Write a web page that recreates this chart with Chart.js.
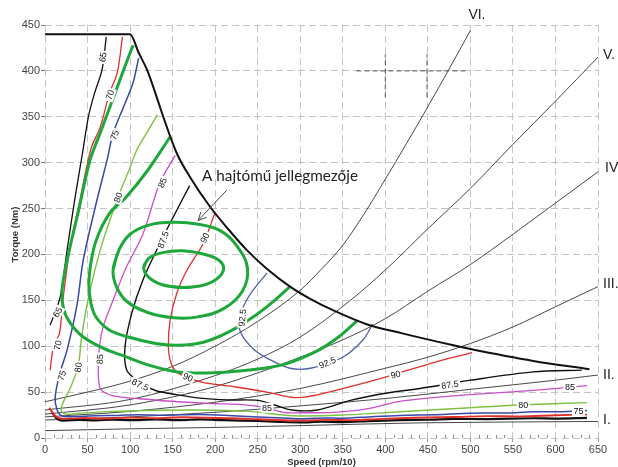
<!DOCTYPE html>
<html><head><meta charset="utf-8">
<script src="https://cdn.jsdelivr.net/npm/chart.js@4.4.1/dist/chart.umd.min.js"></script>
<style>html,body{margin:0;padding:0;background:#fff;} #wrap{width:618px;height:467px;}</style>
</head><body><div id="wrap"><canvas id="c" width="618" height="467"></canvas></div>
<script>
// ---- axis ticks ----
const xTicks = [0,50,100,150,200,250,300,350,400,450,500,550,600,650];
const yTicks = [0,50,100,150,200,250,300,350,400,450];

// ---- maximum torque envelope ----
const envelope = [[0,440],[100,440],[110,420],[120,401],[130,375],[139,350],[155,310],[170,285],[194,252],[215,228],[237,205],[260,185],[288,165],[315,150],[339,139],[378,124],[420,114],[480,101],[500,97],[574,84],[640,75]];

// ---- gear resistance lines ----
const gearI   = [[0,8],[100,10],[200,11.5],[300,13.5],[441,16.5],[650,18]];
const gearII  = [[0,19.6],[100,23],[200,28],[300,35],[400,43],[500,53],[600,63],[650,68.6]];
const gearIII = [[0,23],[100,29],[200,39],[300,54],[400,76],[450,88],[500,103],[550,121],[600,143],[650,165]];
const gearIV  = [[0,26],[100,36],[200,56],[300,88],[350,107],[400,130],[450,160],[500,189],[550,222],[600,256],[650,290]];
const gearV   = [[0,30.5],[100,42],[200,68],[250,86],[300,110],[359,150],[400,183],[450,228],[500,272],[550,320],[600,367],[650,415]];
const gearVI  = [[0,39.5],[50,50],[100,62],[150,78],[200,100],[250,127],[300,161],[325,184],[350,210],[375,244],[400,282],[425,321],[450,361],[475,402],[500,444]];
const gearNames = ["I.","II.","III.","IV","V.","VI."];

// ---- efficiency contours ----
const c65L = [[72,437],[67,401],[58,375],[51,350],[44,310],[35,260],[26,205],[18,154],[11,135],[6,123]];
const c65B = [[8,28],[14,21],[20,19],[40,19.8],[60,19.2],[80,20],[100,19.4],[130,20.2],[160,19.5],[182,20.3],[210,19.4],[250,18.5],[275,17.6],[300,17],[325,17.8],[350,17.3],[380,18.4],[417,19.5],[450,19.9],[480,20.8],[520,20.6],[574,21.5],[600,21.2],[637,22]];
const c70L = [[91,437],[85,398],[76,376],[65,339],[54,315],[41,259],[29,205],[21,150],[17,114],[10,100],[6,74]];
const c70B = [[5,33],[12,24],[20,21],[45,21.8],[70,21.2],[100,22.2],[130,21.6],[160,22.6],[190,22],[220,21.6],[250,20.5],[280,19.4],[300,19],[330,19.8],[360,19.5],[390,20.6],[417,21.5],[450,22.4],[480,22.8],[520,23.8],[560,23.6],[600,24.8],[637,25.5]];
const c75  = [[110,414],[103.5,387],[92,360],[80,332],[73,303],[61,259],[45,194],[37.6,145],[26,96],[17.6,71],[12,45],[14,31],[20,24],[40,23.5],[60,24.3],[85,24.6],[110,25.4],[140,24.9],[182,25.6],[215,24.6],[250,23],[280,21.8],[300,21],[330,21.9],[350,21.5],[385,23.2],[417,24.5],[460,25.4],[500,27],[540,27.2],[574,28.5],[605,28.6],[637,30]];
const c80  = [[132,352],[118,330],[108,314],[98,290],[84.5,259],[65,205],[51,152],[43,110],[39,78],[30,55],[21,38],[19,30],[24,26],[40,27],[79,29],[120,30],[182,30.5],[240,29],[280,25],[300,24],[350,25],[417,28.6],[500,33],[555,36],[637,38.5]];
const c85  = [[153,308],[135,278],[115,222],[95,185],[80,150],[68,120],[63,88],[64,56],[71,49],[85,45],[102,43.5],[156,39.5],[200,37.5],[235,36],[260,33],[280,28],[300,27.5],[339,28],[380,32],[417,40],[496,47],[574,52],[637,57]];
const c875 = [[170,275],[152,243],[135,212],[115,172],[102,136],[94,99],[96,74],[108,63],[129,52],[156,47],[182,43.5],[215,41.5],[250,41],[270,36],[290,30.5],[320,30.5],[359,41],[402,49],[441,54],[468,58],[500,63],[574,72],[631,74]];
const c90  = [[200,246],[186,212],[167,183],[155,158],[147,128],[145,100],[148,82],[156,71],[184,61],[221,56],[261,50],[280,46],[296,44],[320,47],[359,56],[402,67],[460,83],[502,93]];
const c925 = [[261,180],[240,155],[229,132],[230,115],[245,97],[263,86],[288,76],[312,76],[350,88],[374,107],[385,124]];

// ---- drivetrain map (green) ----
const gInner  = [[116,186],[122,196],[138,202],[162,204],[188,200],[204,194],[210,185],[204,175],[188,167],[162,164],[138,167],[122,175],[116,186],[122,196]];
const gMiddle = [[80,183],[87,205],[100,222],[122,232],[151,235],[180,233],[206,226],[225,210],[238,185],[232,160],[210,141],[180,132],[151,131],[120,137],[96,149],[84,165],[80,183],[87,205]];
const gB = [[147,328],[121,292],[95,262],[76,245],[60,215],[53,185],[52,160],[58,135],[75,118],[98,110],[130,103],[156,101],[185,104],[215,115],[245,132],[270,150],[288,165]];
const gA = [[103.5,428],[92,400],[80,370],[66,335],[53,303],[40,250],[26,194],[20,161],[22,140],[30,125],[45,110],[70,97],[91,90],[120,80],[156,72],[198,71],[240,74],[280,80],[320,95],[345,110],[367,128]];

// ---- cursor cross (dark dashes) ----
const crossH  = [[366,400],[496,400]];
const crossV1 = [[400,371],[400,418]];
const crossV2 = [[449,371],[449,418]];

// ---- contour labels: text, x, y, angle ----
const contourLabels = [
 ["65",68,415,-80],["65",15,137,-60],
 ["70",76.4,374,-72],["70",15,101,-78],
 ["75",82,330,-70],["75",20,68,-72],["75",627,29.5,0],
 ["80",86,262,-70],["80",39,77,-82],["80",562,36,0],
 ["85",138,278,-68],["85",64.7,86,-88],["85",261,33,0],["85",617,56,0],
 ["87.5",139,216,-70],["87.5",112,58,25],["87.5",476,58,-8],
 ["90",188,218,-62],["90",168,66,22],["90",412,69,-14],
 ["92.5",232,131,-85],["92.5",332,82,-22]
];
const annotationText = "A hajtómű jellegmezője";
const xTitle = "Speed (rpm/10)";
const yTitle = "Torque (Nm)";

const toXY = a => a.map(p => ({x:p[0], y:p[1]}));
function ln(data, color, width, extra) {
  return Object.assign({data: toXY(data), borderColor: color, borderWidth: width, showLine: true,
    pointRadius: 0, pointHoverRadius: 0, fill: false, tension: 0.3}, extra || {});
}
const RED = '#e0302a', BLUE = '#3a48a8', LGREEN = '#7cc243', MAG = '#c84fc8', GREEN = '#1ea83c', NAVY = '#4f5fa8';
const mono = {cubicInterpolationMode: 'monotone'};

const gears = [gearI, gearII, gearIII, gearIV, gearV, gearVI];

const datasets = [
  ln(envelope, '#111', 2, mono),
  ln(gA, GREEN, 3), ln(gB, GREEN, 3), ln(gMiddle, GREEN, 3, {tension:0.4}), ln(gInner, GREEN, 3, {tension:0.4}),
  ln(c90, RED, 1.3), ln(c925, NAVY, 1.3), ln(c875, '#111', 1.4), ln(c85, MAG, 1.3), ln(c80, LGREEN, 1.4),
  ln(c75, BLUE, 1.5), ln(c70L, RED, 1.3), ln(c70B, RED, 1.9), ln(c65L, '#111', 1.3), ln(c65B, '#111', 2.2),
  ...gears.map(g => ln(g, '#333', 0.9, mono)),
  ln(crossH, '#555', 1, {borderDash:[5,3], tension:0}), ln(crossV1, '#555', 1, {borderDash:[5,3], tension:0}), ln(crossV2, '#555', 1, {borderDash:[5,3], tension:0})
];

const overlay = {
  id: 'overlay',
  afterDatasetsDraw(chart) {
    const {ctx, scales:{x, y}, chartArea:ca} = chart;
    const X = v => x.getPixelForValue(v), Y = v => y.getPixelForValue(v);
    ctx.save();
    // minor ticks on x axis
    ctx.strokeStyle = '#888'; ctx.lineWidth = 1;
    for (let v = 10; v < 650; v += 10) {
      if (v % 50 === 0) continue;
      const px = Math.round(X(v)) + 0.5;
      ctx.beginPath(); ctx.moveTo(px, ca.bottom); ctx.lineTo(px, ca.bottom - 3); ctx.stroke();
    }
    // contour labels
    ctx.font = '9px "Liberation Sans", Arial, sans-serif';
    ctx.textAlign = 'center'; ctx.textBaseline = 'middle';
    for (const [t, vx, vy, a] of contourLabels) {
      ctx.save(); ctx.translate(X(vx), Y(vy)); ctx.rotate(a * Math.PI / 180);
      const w = ctx.measureText(t).width;
      ctx.fillStyle = '#fff'; ctx.fillRect(-w/2 - 1.5, -5, w + 3, 10);
      ctx.fillStyle = '#111'; ctx.fillText(t, 0, 0.5);
      ctx.restore();
    }
    // annotation text
    ctx.font = '16px Lato, "Open Sans", sans-serif';
    let w = ctx.measureText(annotationText).width;
    const fs = 16 * 156 / w;
    ctx.font = fs.toFixed(2) + 'px Lato, "Open Sans", sans-serif';
    ctx.fillStyle = '#222'; ctx.textAlign = 'left'; ctx.textBaseline = 'alphabetic';
    ctx.fillText(annotationText, X(184.6), Y(280));
    // arrow
    const tx = X(213.6), ty = Y(270), hx = X(180), hy = Y(237);
    ctx.strokeStyle = '#444'; ctx.lineWidth = 1;
    ctx.beginPath(); ctx.moveTo(tx, ty); ctx.lineTo(hx, hy); ctx.stroke();
    const ang = Math.atan2(hy - ty, hx - tx);
    for (const s of [-1, 1]) {
      const a2 = ang + Math.PI - s * 0.45;
      ctx.beginPath(); ctx.moveTo(hx, hy); ctx.lineTo(hx + 9 * Math.cos(a2), hy + 9 * Math.sin(a2)); ctx.stroke();
    }
    // gear labels
    ctx.font = '14px "Liberation Sans", Arial, sans-serif';
    ctx.fillStyle = '#222'; ctx.textBaseline = 'middle'; ctx.textAlign = 'left';
    const offs = [[5,-1],[5,0],[5,-2],[7,-4],[5,-2],[-2,-15]];
    gears.forEach((g, i) => {
      const e = g[g.length - 1];
      ctx.fillText(gearNames[i], X(e[0]) + offs[i][0], Y(e[1]) + offs[i][1]);
    });
    // axis titles
    ctx.font = 'bold 9.5px "Liberation Sans", Arial, sans-serif';
    ctx.fillStyle = '#333'; ctx.textAlign = 'center'; ctx.textBaseline = 'middle';
    ctx.fillText(xTitle, (ca.left + ca.right) / 2, 462);
    ctx.save(); ctx.translate(15, (ca.top + ca.bottom) / 2 + 3); ctx.rotate(-Math.PI / 2);
    ctx.fillText(yTitle, 0, 0); ctx.restore();
    ctx.restore();
  }
};

new Chart(document.getElementById('c'), {
  type: 'scatter',
  data: {datasets},
  options: {
    responsive: false, animation: false, devicePixelRatio: 1,
    layout: {padding: {left: 0, right: 20, top: 25, bottom: 0}},
    plugins: {legend: {display: false}, tooltip: {enabled: false}},
    scales: {
      x: {type: 'linear', min: 0, max: 650,
        afterBuildTicks: s => { s.ticks = xTicks.map(v => ({value: v})); },
        ticks: {font: {family: '"Liberation Sans", Arial', size: 11}, color: '#444', padding: 1, maxRotation: 0, autoSkip: false},
        grid: {color: '#c4c4c4', lineWidth: 1, tickLength: 4, tickColor: '#999'},
        border: {display: false, dash: [7, 4]},
        afterFit: s => { s.height = 29; }
      },
      y: {type: 'linear', min: 0, max: 450,
        afterBuildTicks: s => { s.ticks = yTicks.map(v => ({value: v})); },
        ticks: {font: {family: '"Liberation Sans", Arial', size: 11}, color: '#444', padding: 1, autoSkip: false},
        grid: {color: '#c4c4c4', lineWidth: 1, tickLength: 4, tickColor: '#777'},
        border: {display: false, dash: [7, 4]},
        afterFit: s => { s.width = 45; }
      }
    }
  },
  plugins: [overlay]
});
</script></body></html>
